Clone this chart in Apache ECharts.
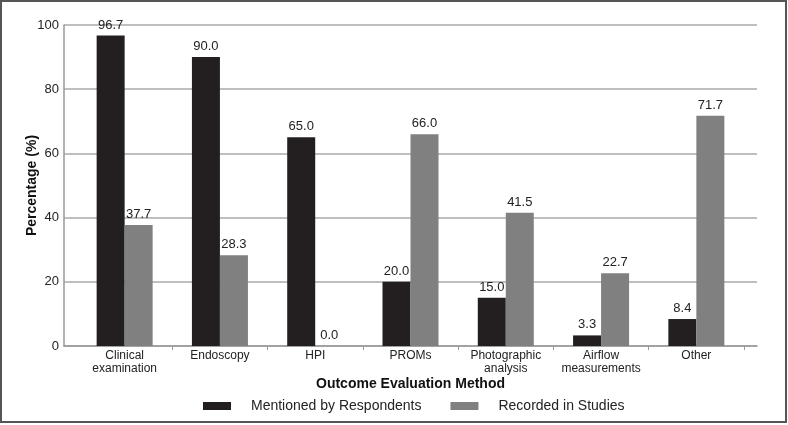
<!DOCTYPE html>
<html>
<head>
<meta charset="utf-8">
<script src="https://cdn.jsdelivr.net/npm/echarts@6/dist/echarts.min.js"></script>
<style>
  html, body { margin: 0; padding: 0; background: #fff; }
  #chart { width: 788px; height: 425px; }
</style>
</head>
<body>
<div id="chart"></div>
<script>
// data
const categories = ['Clinical\nexamination', 'Endoscopy', 'HPI', 'PROMs', 'Photographic\nanalysis', 'Airflow\nmeasurements', 'Other']
const respondents = [96.7, 90.0, 65.0, 20.0, 15.0, 3.3, 8.4]
const studies = [37.7, 28.3, 0.0, 66.0, 41.5, 22.7, 71.7]
const seriesNames = ['Mentioned by Respondents', 'Recorded in Studies']

const font = 'Liberation Sans, Arial, sans-serif'
const myChart = echarts.init(document.getElementById('chart'))

const valueLabel = {
  show: true,
  position: 'top',
  distance: 4,
  color: '#222',
  fontSize: 13,
  fontFamily: font,
  formatter: p => p.value.toFixed(1)
}

const option = {
  animation: false,
  textStyle: { fontFamily: font },
  graphic: [{
    type: 'rect',
    shape: { x: 1, y: 1, width: 785, height: 421 },
    style: { fill: 'none', stroke: '#555', lineWidth: 2 },
    silent: true
  }],
  grid: [
    // background grid: y axis + gridlines over the full width
    { left: 64, right: 31, top: 25, bottom: 79 },
    // bars
    { left: 77, right: 44, top: 25, bottom: 79 }
  ],
  legend: {
    top: 394,
    left: 198,
    itemWidth: 28,
    itemHeight: 8,
    itemGap: 29,
    icon: 'rect',
    textStyle: { fontSize: 14, color: '#222', fontFamily: font, padding: [0, 0, 0, 15] },
    data: seriesNames
  },
  xAxis: [
    {
      gridIndex: 0,
      type: 'value',
      min: 0,
      max: 1,
      axisLine: { show: true, lineStyle: { color: '#999', width: 1.5 } },
      axisTick: { show: false },
      axisLabel: { show: false },
      splitLine: { show: false }
    },
    {
      gridIndex: 1,
      type: 'category',
      data: categories,
      name: 'Outcome Evaluation Method',
      nameLocation: 'middle',
      nameGap: 31,
      nameMoveOverlap: false,
      nameTextStyle: { fontSize: 14, fontWeight: 'bold', color: '#111', fontFamily: font },
      axisLine: { show: false },
      axisTick: {
        show: true,
        length: 4,
        interval: i => i > 0 && i < 7,
        lineStyle: { color: '#999' }
      },
      axisLabel: { color: '#222', fontSize: 12, lineHeight: 13, margin: 3, fontFamily: font, interval: 0 }
    }
  ],
  yAxis: [
    {
      gridIndex: 0,
      type: 'value',
      min: 0,
      max: 100,
      interval: 20,
      name: 'Percentage (%)',
      nameLocation: 'middle',
      nameGap: 25,
      nameMoveOverlap: false,
      nameTextStyle: { fontSize: 14, fontWeight: 'bold', color: '#111', fontFamily: font },
      axisLine: { show: true, lineStyle: { color: '#999', width: 1.5 } },
      axisTick: { show: false },
      axisLabel: { color: '#222', fontSize: 13, margin: 5, fontFamily: font },
      splitLine: { show: true, lineStyle: { color: '#aaa', width: 1.5 } }
    },
    {
      gridIndex: 1,
      type: 'value',
      min: 0,
      max: 100,
      interval: 20,
      axisLine: { show: false },
      axisTick: { show: false },
      axisLabel: { show: false },
      splitLine: { show: false }
    }
  ],
  series: [
    {
      name: seriesNames[0],
      type: 'bar',
      xAxisIndex: 1,
      yAxisIndex: 1,
      barWidth: 28,
      barGap: '0%',
      data: respondents,
      itemStyle: { color: '#231f20' },
      label: valueLabel
    },
    {
      name: seriesNames[1],
      type: 'bar',
      xAxisIndex: 1,
      yAxisIndex: 1,
      barWidth: 28,
      barGap: '0%',
      data: studies,
      itemStyle: { color: '#808080' },
      label: valueLabel
    }
  ]
}
myChart.setOption(option)
</script>
</body>
</html>
